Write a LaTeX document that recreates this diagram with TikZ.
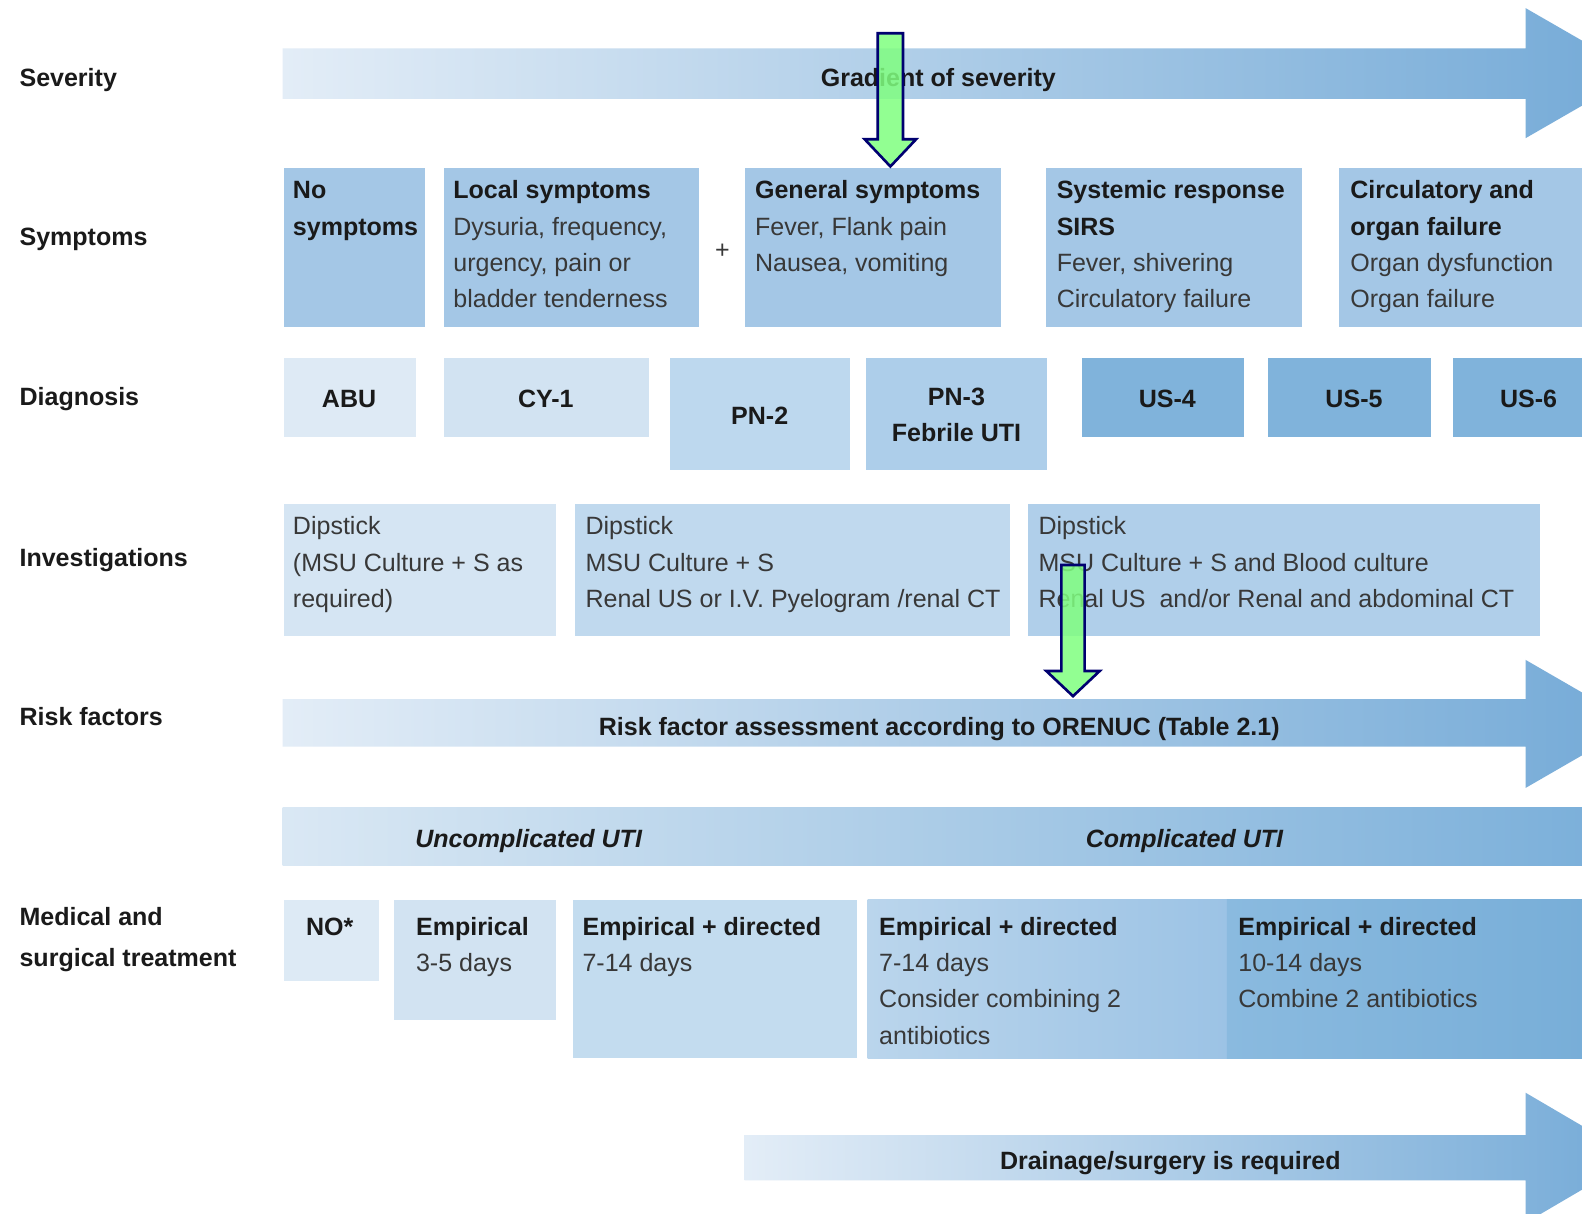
\documentclass[tikz,border=0pt]{standalone}
\usepackage{fontspec}
\setmainfont{Liberation Sans}
\usetikzlibrary{fit}
\definecolor{txtdark}{HTML}{1A1A1A}
\definecolor{txtgray}{HTML}{383838}
\definecolor{arrL}{HTML}{E3EDF7}
\definecolor{arrR}{HTML}{74AAD7}
\definecolor{symbox}{HTML}{A4C7E6}
\definecolor{dA}{HTML}{DEEAF5}
\definecolor{dB}{HTML}{D2E3F2}
\definecolor{dC}{HTML}{BDD8EE}
\definecolor{dD}{HTML}{ADCEEA}
\definecolor{dE}{HTML}{80B3DB}
\definecolor{iA}{HTML}{D5E5F3}
\definecolor{iB}{HTML}{C0D9EE}
\definecolor{iC}{HTML}{B0CFEA}
\definecolor{tA}{HTML}{DDEAF5}
\definecolor{tB}{HTML}{D2E3F2}
\definecolor{tC}{HTML}{C3DCEF}
\definecolor{tDl}{HTML}{BAD5EC}
\definecolor{tDr}{HTML}{9CC3E5}
\definecolor{tEl}{HTML}{8ABADF}
\definecolor{tEr}{HTML}{78AED8}
\definecolor{barL}{HTML}{DAE8F4}
\definecolor{barR}{HTML}{7CB0DA}
\definecolor{gfill}{HTML}{80FF80}
\definecolor{gline}{HTML}{000070}
\newcommand\hd[1]{{\bfseries\color{txtdark}#1}}
\newcommand\bx[6]{\node[boxst,fill=#6,fit={(#2,#3) (#4,#5)}] (#1) {};}
\newcommand\para[1]{\parbox[t]{400pt}{\leavevmode#1}}
\begin{document}
\begin{tikzpicture}[x=0.5pt,y=-0.5pt,
  boxst/.style={inner sep=0pt, outer sep=0pt, draw=none},
  lab/.style={anchor=base west, inner sep=0pt, font=\fontsize{12.4}{18}\selectfont\bfseries, text=txtdark},
  txt/.style={anchor=base west, inner sep=0pt, font=\fontsize{12.4}{18}\selectfont, text=txtgray},
  ctr/.style={anchor=base, inner sep=0pt, font=\fontsize{12.4}{18}\selectfont\bfseries, text=txtdark},
  garrow/.style={fill=gfill, draw=gline, line width=1.3pt, fill opacity=0.85, line join=miter}
]
\useasboundingbox (0,0) rectangle (1568,1203);
\clip (0,0) rectangle (1568,1203);
\fill[white] (0,0) rectangle (1568,1203);

% ---------- left labels ----------
\node[lab] (lsev) at (19,86) {Severity};
\node[lab] (lsym) at (19,243) {Symptoms};
\node[lab] (ldia) at (19,402) {Diagnosis};
\node[lab] (linv) at (19,561) {Investigations};
\node[lab] (lrisk) at (19,719) {Risk factors};
\node[lab] (lmed1) at (19,917) {Medical and};
\node[lab] (lmed2) at (19,958) {surgical treatment};

% ---------- severity arrow ----------
\shade[left color=arrL, right color=arrR]
  (280,48) -- (1512,48) -- (1512,8) -- (1624,72.5) -- (1512,137) -- (1512,98) -- (280,98) -- cycle;
\node[ctr] (sevt) at (930,86) {Gradient of severity};

% ---------- symptoms ----------
\bx{nosym}{281}{167}{421}{324}{symbox}
\bx{local}{440}{167}{693}{324}{symbox}
\bx{general}{738}{167}{992}{324}{symbox}
\bx{systemic}{1037}{167}{1290}{324}{symbox}
\bx{circ}{1327}{167}{1572}{324}{symbox}
\node[txt] (nosymt) at (290,197) {\para{\hd{No\\symptoms}}};
\node[txt] (localt) at (449,197) {\para{\hd{Local symptoms}\\Dysuria, frequency,\\urgency, pain or\\bladder tenderness}};
\node[txt, anchor=center] (plus) at (716,249) {+};
\node[txt] (generalt) at (748,197) {\para{\hd{General symptoms}\\Fever, Flank pain\\Nausea, vomiting}};
\node[txt] (systemict) at (1047,197) {\para{\hd{Systemic response\\SIRS}\\Fever, shivering\\Circulatory failure}};
\node[txt] (circt) at (1338,197) {\para{\hd{Circulatory and\\organ failure}\\Organ dysfunction\\Organ failure}};

% ---------- diagnosis ----------
\bx{abu}{281}{355}{412}{433}{dA}
\bx{cy1}{440}{355}{643}{433}{dB}
\bx{pn2}{664}{355}{842}{466}{dC}
\bx{pn3}{858}{355}{1038}{466}{dD}
\bx{us4}{1072}{355}{1233}{433}{dE}
\bx{us5}{1257}{355}{1418}{433}{dE}
\bx{us6}{1440}{355}{1572}{433}{dE}
\node[ctr] (abut) at (346,404) {ABU};
\node[ctr] (cy1t) at (541,404) {CY-1};
\node[ctr] (pn2t) at (753,421) {PN-2};
\node[ctr] (pn3t) at (948,402) {PN-3};
\node[ctr] (pn3u) at (948,438) {Febrile UTI};
\node[ctr] (us4t) at (1157,404) {US-4};
\node[ctr] (us5t) at (1342,404) {US-5};
\node[ctr] (us6t) at (1515,404) {US-6};

% ---------- investigations ----------
\bx{inv1}{281}{500}{551}{630}{iA}
\bx{inv2}{570}{500}{1001}{630}{iB}
\bx{inv3}{1019}{500}{1526}{630}{iC}
\node[txt] (inv1t) at (290,530) {\para{Dipstick\\(MSU Culture + S as\\required)}};
\node[txt] (inv2t) at (580,530) {\para{Dipstick\\MSU Culture + S\\Renal US or I.V. Pyelogram /renal CT}};
\node[txt] (inv3t) at (1029,530) {\para{Dipstick\\MSU Culture + S and Blood culture\\Renal US\ \ and/or Renal and abdominal CT}};

% ---------- risk factor arrow ----------
\shade[left color=arrL, right color=arrR]
  (280,693) -- (1512,693) -- (1512,654) -- (1622,717.5) -- (1512,781) -- (1512,740) -- (280,740) -- cycle;
\node[ctr] (riskt) at (931,729) {Risk factor assessment according to ORENUC (Table 2.1)};

% ---------- complicated bar ----------
\node[boxst, left color=barL, right color=barR, fit={(280,800) (1572,858)}] (ucbar) {};
\node[ctr, font=\fontsize{12.4}{18}\selectfont\bfseries\itshape] (unct) at (524,840) {Uncomplicated UTI};
\node[ctr, font=\fontsize{12.4}{18}\selectfont\bfseries\itshape] (compt) at (1174,840) {Complicated UTI};

% ---------- treatment ----------
\bx{tno}{281}{892}{376}{972}{tA}
\bx{temp}{391}{892}{551}{1011}{tB}
\bx{ted1}{568}{892}{849}{1049}{tC}
\node[boxst, left color=tDl, right color=tDr, fit={(860,892) (1217,1049)}] (ted2) {};
\node[boxst, left color=tEl, right color=tEr, fit={(1216,892) (1572,1049)}] (ted3) {};
\node[txt] (tnot) at (303,927) {\para{\hd{NO*}}};
\node[txt] (tempt) at (412,927) {\para{\hd{Empirical}\\3-5 days}};
\node[txt] (ted1t) at (577,927) {\para{\hd{Empirical + directed}\\7-14 days}};
\node[txt] (ted2t) at (871,927) {\para{\hd{Empirical + directed}\\7-14 days\\Consider combining 2\\antibiotics}};
\node[txt] (ted3t) at (1227,927) {\para{\hd{Empirical + directed}\\10-14 days\\Combine 2 antibiotics}};

% ---------- drainage arrow ----------
\shade[left color=arrL, right color=arrR]
  (738,1125) -- (1512,1125) -- (1512,1083) -- (1622,1147.5) -- (1512,1212) -- (1512,1170) -- (738,1170) -- cycle;
\node[ctr] (draint) at (1160,1159) {Drainage/surgery is required};

% ---------- green arrows ----------
\draw[garrow] (870,33) -- (895,33) -- (895,138) -- (908,138) -- (882.5,165) -- (857,138) -- (870,138) -- cycle;
\draw[garrow] (1052,560) -- (1075,560) -- (1075,665) -- (1090,665) -- (1063.5,690) -- (1037,665) -- (1052,665) -- cycle;
\end{tikzpicture}
\end{document}
